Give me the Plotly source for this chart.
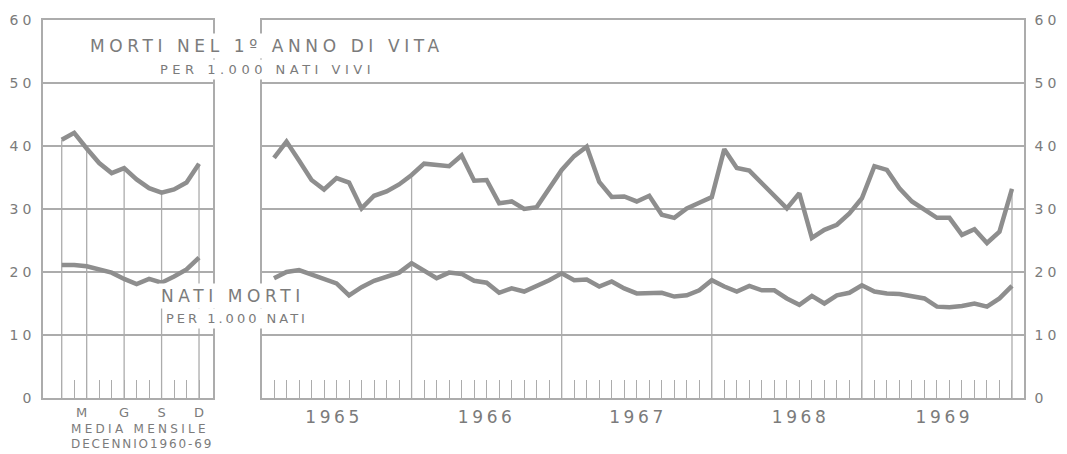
import plotly.graph_objects as go

# media mensile decennio 1960-69 (gen..dic)
mesi_media = list(range(12))
morti_1anno_media = [41.0, 42.1, 39.6, 37.3, 35.7, 36.5, 34.7, 33.3, 32.6, 33.1, 34.2, 37.2]
nati_morti_media = [21.1, 21.1, 20.9, 20.4, 19.9, 18.9, 18.1, 18.9, 18.3, 19.3, 20.4, 22.3]
mesi_tick_pos = [1.6, 5, 8, 11]
mesi_tick_lab = ["M", "G", "S", "D"]
mesi_drop = [0, 2, 5, 8, 11]

# serie mensile 1965-1969
mesi = list(range(60))
morti_1anno = [38.1, 40.7, 37.7, 34.6, 33.1, 34.9, 34.2, 30.1, 32.1, 32.8, 33.9, 35.4,
               37.2, 37.0, 36.8, 38.5, 34.5, 34.6, 30.9, 31.2, 30.0, 30.3, 33.1, 36.2,
               38.4, 39.9, 34.3, 31.9, 32.0, 31.2, 32.1, 29.1, 28.6, 30.1, 31.0, 31.9,
               39.5, 36.5, 36.1, 34.1, 32.0, 30.1, 32.5, 25.4, 26.7, 27.5, 29.3, 31.7,
               36.8, 36.2, 33.3, 31.2, 29.9, 28.6, 28.6, 25.9, 26.8, 24.6, 26.4, 33.2]
nati_morti = [19.0, 20.0, 20.3, 19.6, 18.9, 18.2, 16.3, 17.6, 18.6, 19.2, 19.9, 21.4,
              20.3, 19.0, 19.9, 19.7, 18.6, 18.3, 16.7, 17.4, 16.9, 17.8, 18.7, 19.8,
              18.7, 18.8, 17.7, 18.5, 17.4, 16.6, 16.7, 16.7, 16.1, 16.3, 17.1, 18.7,
              17.7, 16.9, 17.8, 17.1, 17.1, 15.8, 14.8, 16.2, 15.0, 16.3, 16.7, 17.9,
              16.9, 16.6, 16.5, 16.2, 15.8, 14.5, 14.4, 14.6, 15.0, 14.5, 15.8, 17.8]
anni = ["1965", "1966", "1967", "1968", "1969"]
anni_pos = [4.8, 17.0, 29.1, 42.1, 53.6]
dic_drop = [11, 23, 35, 47, 59]

y_ticks = [0, 10, 20, 30, 40, 50, 60]

GREY_TXT = "#7b7b7b"
GREY_LINE = "#8e8e8e"
GREY_GRID = "#acacac"
FONT = "DejaVu Sans"


def spaced(s, px):
    return f'<span style="letter-spacing:{px}px">{s}</span>'


def drops(xs, ys):
    # verticali dal fondo fino alla curva superiore
    dx, dy = [], []
    for m in xs:
        dx += [m, m, None]
        dy += [0, ys[m], None]
    return dx, dy


fig = go.Figure()

dx, dy = drops(mesi_drop, morti_1anno_media)
fig.add_trace(go.Scatter(x=dx, y=dy, mode='lines', line=dict(color=GREY_GRID, width=1.3),
                         xaxis='x', yaxis='y', hoverinfo='skip'))
dx, dy = drops(dic_drop, morti_1anno)
fig.add_trace(go.Scatter(x=dx, y=dy, mode='lines', line=dict(color=GREY_GRID, width=1.3),
                         xaxis='x2', yaxis='y2', hoverinfo='skip'))

for ys in (morti_1anno_media, nati_morti_media):
    fig.add_trace(go.Scatter(x=mesi_media, y=ys, mode='lines',
                             line=dict(color=GREY_LINE, width=4.5),
                             xaxis='x', yaxis='y'))
for ys in (morti_1anno, nati_morti):
    fig.add_trace(go.Scatter(x=mesi, y=ys, mode='lines',
                             line=dict(color=GREY_LINE, width=4.5),
                             xaxis='x2', yaxis='y2'))

W, H = 1067, 454
TOP, BOT = 20, 398
axis_common = dict(showline=True, mirror=True, linecolor=GREY_GRID, linewidth=1.5,
                   zeroline=False, automargin=False)


def minor_ticks(vals):
    return dict(ticks="inside", ticklen=18, tickcolor=GREY_GRID, tickwidth=1.2,
                tickmode="array", tickvals=vals, showgrid=False)


fig.update_layout(
    width=W, height=H,
    margin=dict(l=0, r=0, t=TOP, b=H - BOT),
    paper_bgcolor="white", plot_bgcolor="white",
    showlegend=False,
    font=dict(family=FONT, color=GREY_TXT),
    xaxis=dict(domain=[43 / W, 213 / W], range=[-1.5, 12.12], showgrid=False,
               tickmode="array", tickvals=mesi_tick_pos, ticktext=mesi_tick_lab,
               ticks="", ticklabelstandoff=2, tickfont=dict(size=13),
               minor=minor_ticks(mesi_media), **axis_common),
    yaxis=dict(domain=[0, 1], range=[0, 60], showgrid=True, gridcolor=GREY_GRID, gridwidth=1.5,
               tickmode="array", tickvals=y_ticks, ticktext=[spaced(str(v), 4) for v in y_ticks],
               ticks="", ticklabelstandoff=3, tickfont=dict(size=14), **axis_common),
    xaxis2=dict(domain=[262 / W, 1024 / W], range=[-0.96, 59.96], anchor='y2', showgrid=False,
                tickmode="array", tickvals=anni_pos, ticktext=[spaced(a, 3.6) for a in anni],
                ticks="", ticklabelstandoff=3, tickfont=dict(size=17),
                minor=minor_ticks(mesi), **axis_common),
    yaxis2=dict(domain=[0, 1], range=[0, 60], anchor='x2', side='right',
                showgrid=True, gridcolor=GREY_GRID, gridwidth=1.5,
                tickmode="array", tickvals=y_ticks, ticktext=[spaced(str(v), 4) for v in y_ticks],
                ticks="", ticklabelstandoff=6, tickfont=dict(size=14), **axis_common),
)

notes = [
    dict(text=spaced("MORTI NEL 1º ANNO DI VITA", 4.6), x=267, y=46, size=17, bg="white"),
    dict(text=spaced("PER 1.000 NATI VIVI", 4.5), x=267, y=69, size=13, bg="white"),
    dict(text=spaced("NATI MORTI", 4.6), x=233, y=296, size=17, bg="white"),
    dict(text=spaced("PER 1.000 NATI", 3.0), x=237, y=318, size=13, bg="white"),
    dict(text=spaced("MEDIA MENSILE", 3.3), x=140, y=429, size=12, bg=None),
    dict(text=spaced("DECENNIO1960-69", 1.9), x=142, y=444, size=12, bg=None),
]
for n in notes:
    fig.add_annotation(text=n["text"], xref="paper", yref="paper",
                       x=n["x"] / W, y=(BOT - n["y"]) / (BOT - TOP),
                       xanchor="center", yanchor="middle", showarrow=False,
                       font=dict(size=n["size"], color=GREY_TXT, family=FONT),
                       bgcolor=n["bg"], borderpad=2 if n["bg"] else 0)

# niente margine del body: la figura parte dall'angolo in alto a sinistra
fig.write_html("out.html", config={"displayModeBar": False},
               post_script="document.body.style.margin='0px';")
